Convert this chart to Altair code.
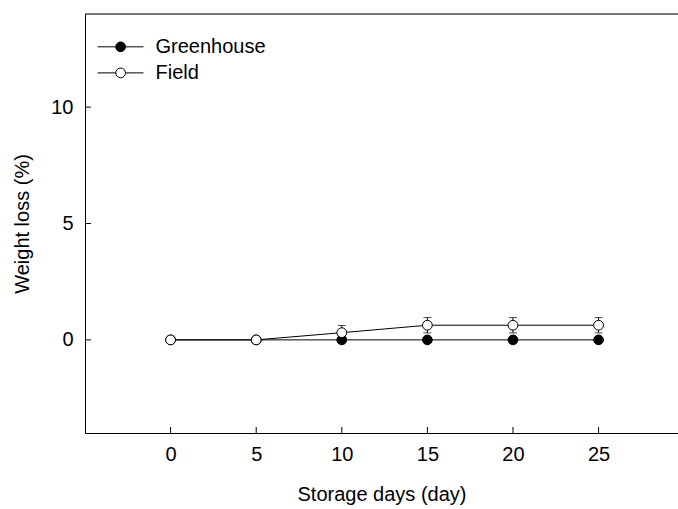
import altair as alt
import pandas as pd

days = [0, 5, 10, 15, 20, 25]
greenhouse = [0, 0, 0, 0, 0, 0]
greenhouse_err = [0, 0, 0, 0, 0, 0]
field = [0, 0, 0.31, 0.63, 0.63, 0.63]
field_err = [0, 0, 0.31, 0.33, 0.33, 0.33]
series_names = ["Greenhouse", "Field"]
x_ticks = [0, 5, 10, 15, 20, 25]
y_ticks = [0, 5, 10]

X_DOM = [-5, 29.64]
Y_DOM = [-4, 14]
FONT = "Liberation Sans"
FS = 20
XT = "Storage days (day)"
YT = "Weight loss (%)"

rows = []
for d, v, e in zip(days, greenhouse, greenhouse_err):
    rows.append({"day": d, "val": v, "err": e, "series": "Greenhouse"})
for d, v, e in zip(days, field, field_err):
    rows.append({"day": d, "val": v, "err": e, "series": "Field"})
df = pd.DataFrame(rows)
df["lo"] = df["val"] - df["err"]
df["hi"] = df["val"] + df["err"]

xs = alt.Scale(domain=X_DOM, nice=False, zero=False)
ys = alt.Scale(domain=Y_DOM, nice=False, zero=False)

xax = alt.Axis(values=x_ticks, tickSize=0, labelPadding=11, domainColor="black",
               labelFont=FONT, labelFontSize=FS, labelColor="black",
               titleFont=FONT, titleFontSize=FS, titleFontWeight="normal",
               titleColor="black", titlePadding=20, grid=False, labelFlush=False)
yax = alt.Axis(values=y_ticks, tickSize=0, labelPadding=12, domainColor="black",
               labelFont=FONT, labelFontSize=FS, labelColor="black",
               titleFont=FONT, titleFontSize=FS, titleFontWeight="normal",
               titleColor="black", titlePadding=18, grid=False, labelFlush=False)

base = alt.Chart(df)
X = alt.X("day:Q", scale=xs, axis=xax, title=XT)
Y = alt.Y("val:Q", scale=ys, axis=yax, title=YT)

lines = base.mark_line(color="black", strokeWidth=1).encode(
    x=X, y=Y, detail="series:N", order="day:Q")

err = base.transform_filter("datum.err > 0").mark_errorbar(
    ticks=alt.MarkConfig(size=8, color="black", strokeWidth=1),
    color="black", thickness=1).encode(
    x=alt.X("day:Q", scale=xs, title=XT), y=alt.Y("lo:Q", scale=ys, title=YT), y2="hi:Q")

fill_scale = alt.Scale(domain=series_names, range=["black", "white"])

pts = base.mark_point(filled=True, size=95, opacity=1, stroke="black", strokeWidth=1).encode(
    x=alt.X("day:Q", scale=xs, title=XT), y=alt.Y("val:Q", scale=ys, title=YT),
    fill=alt.Fill("series:N", scale=fill_scale, legend=None),
    order=alt.Order("series:N", sort="descending"))

# inward ticks
xt = alt.Chart(pd.DataFrame({"t": x_ticks})).mark_rule(color="black", strokeWidth=1).encode(
    x=alt.X("t:Q", scale=xs, title=XT), y=alt.datum(Y_DOM[0]), y2=alt.datum(Y_DOM[0] + 6 / 23.28))
yt = alt.Chart(pd.DataFrame({"t": y_ticks})).mark_rule(color="black", strokeWidth=1).encode(
    y=alt.Y("t:Q", scale=ys, title=YT), x=alt.datum(X_DOM[0]), x2=alt.datum(X_DOM[0] + 6 / 17.12))

top = alt.Chart(pd.DataFrame({"t": [Y_DOM[1]]})).mark_rule(color="black", strokeWidth=1).encode(
    y=alt.Y("t:Q", scale=ys, title=YT))

# legend
leg = pd.DataFrame({
    "series": series_names,
    "y": [12.59, 11.47],
    "x1": [-4.26, -4.26],
    "x2": [-1.58, -1.58],
    "xm": [-2.92, -2.92],
    "xt": [-0.88, -0.88],
})
lbase = alt.Chart(leg)
lline = lbase.mark_rule(color="black", strokeWidth=1).encode(
    x=alt.X("x1:Q", scale=xs, title=XT), x2="x2:Q", y=alt.Y("y:Q", scale=ys, title=YT))
lpt = lbase.mark_point(filled=True, size=95, opacity=1, stroke="black", strokeWidth=1).encode(
    x=alt.X("xm:Q", scale=xs, title=XT), y=alt.Y("y:Q", scale=ys, title=YT),
    fill=alt.Fill("series:N", scale=fill_scale, legend=None))
ltxt = lbase.mark_text(align="left", baseline="middle", font=FONT, fontSize=FS, color="black").encode(
    x=alt.X("xt:Q", scale=xs, title=XT), y=alt.Y("y:Q", scale=ys, title=YT), text="series:N")

chart = alt.layer(lines, err, pts, xt, yt, top, lline, lpt, ltxt).properties(
    width=593, height=419,
    autosize=alt.AutoSizeParams(type="none"),
    padding={"left": 85, "top": 14, "right": 0, "bottom": 76},
).configure_view(stroke=None).configure(background="white")

chart.save("out.html", embed_options={"renderer": "svg", "actions": False})
